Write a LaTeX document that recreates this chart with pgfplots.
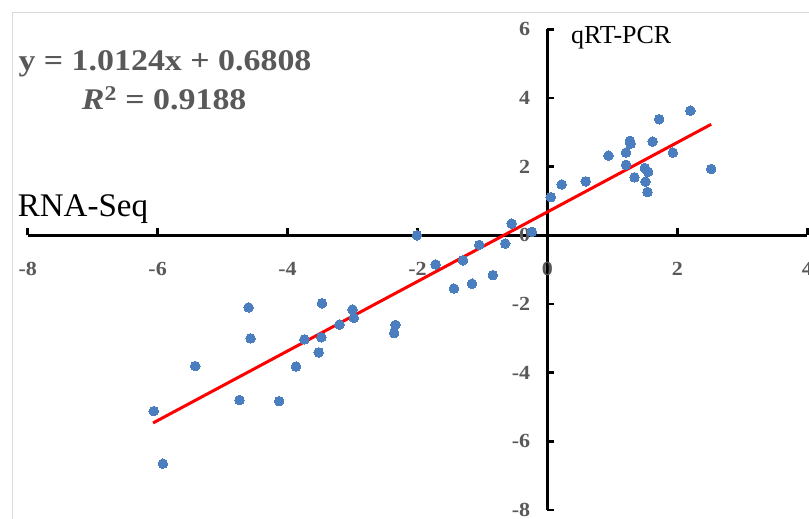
\documentclass[border=0pt]{standalone}
\usepackage{pgfplots}
\pgfplotsset{compat=1.18}
\usepackage{fontspec}
\setmainfont{Liberation Serif}
\definecolor{ptblue}{RGB}{74,126,190}
\definecolor{lblgray}{RGB}{89,89,89}
\definecolor{framegray}{RGB}{217,217,217}
\newcommand{\tlfont}{\bfseries\fontsize{20bp}{24bp}\selectfont}
\begin{document}
\begin{tikzpicture}[x=1bp,y=1bp]
\useasboundingbox (0,0) rectangle (809,519);
\fill[white] (0,0) rectangle (809,519);
\draw[framegray, line width=1.2bp] (12.7,0) -- (12.7,506.3) -- (809,506.3);
\begin{axis}[
  at={(27.7bp,9bp)}, anchor=south west,
  scale only axis, width=779.6bp, height=480.7bp,
  xmin=-8, xmax=4, ymin=-8, ymax=6,
  axis lines=middle,
  axis line style={line width=3bp, black, -},
  xtick={-8,-6,-4,-2,0,2,4},
  ytick={-8,-6,-4,-2,0,2,4,6},
  xticklabels={{\tlfont -8},{\tlfont -6},{\tlfont -4},{\tlfont -2},{\tlfont 0},{\tlfont 2},{\tlfont 4}},
  yticklabels={{\tlfont -8},{\tlfont -6},{\tlfont -4},{\tlfont -2},{\tlfont 0},{\tlfont 2},{\tlfont 4},{\tlfont 6}},
  hide obscured x ticks=false, hide obscured y ticks=false,
  tick align=inside,
  major tick length=7bp,
  tick style={line width=2.5bp, black},
  tick label style={text=lblgray, xscale=1.1},
  xticklabel style={anchor=center, inner sep=0pt, yshift=-34bp},
  yticklabel style={anchor=east, inner sep=0pt, xshift=-15.5bp},
  clip=false,
]
\addplot[only marks, color=ptblue, mark=*, mark size=4.8bp, mark options={fill=ptblue, draw=ptblue, line width=0pt}] table {
x y
2.20 3.63
1.72 3.38
1.27 2.75
1.28 2.67
1.62 2.73
0.94 2.32
1.21 2.41
1.93 2.41
1.21 2.05
1.50 1.96
1.55 1.85
1.34 1.69
1.51 1.56
1.54 1.26
2.52 1.93
0.59 1.57
0.22 1.48
0.05 1.11
-0.55 0.34
-0.24 0.10
-2.01 0.00
-1.05 -0.28
-0.65 -0.24
-1.72 -0.85
-1.30 -0.73
-0.84 -1.16
-1.44 -1.55
-1.16 -1.41
-4.60 -2.10
-3.47 -1.98
-3.00 -2.16
-2.98 -2.40
-3.20 -2.60
-2.34 -2.61
-2.36 -2.85
-4.57 -3.00
-3.74 -3.03
-3.48 -2.97
-3.52 -3.41
-5.42 -3.81
-3.87 -3.82
-4.74 -4.80
-4.13 -4.83
-6.06 -5.12
-5.92 -6.65
};
\addplot[red, line width=3bp] coordinates {(-6.07,-5.465) (2.52,3.232)};
\end{axis}
\node[anchor=base west, inner sep=0pt, text=lblgray, xscale=1.13, transform shape, font=\bfseries\fontsize{30bp}{36bp}\selectfont] at (18.3,448.3) {y = 1.0124x + 0.6808};
\node[anchor=base west, inner sep=0pt, text=lblgray, xscale=1.13, transform shape, font=\bfseries\fontsize{30bp}{36bp}\selectfont] at (81.7,409) {\textit{R}\textsuperscript{2} = 0.9188};
\node[anchor=base west, inner sep=1bp, fill=white, font=\fontsize{33bp}{38bp}\selectfont] at (16.7,302.3) {RNA-Seq};
\node[anchor=base west, inner sep=1bp, fill=white, font=\fontsize{26bp}{30bp}\selectfont] at (570,475.7) {qRT-PCR};
\end{tikzpicture}
\end{document}
